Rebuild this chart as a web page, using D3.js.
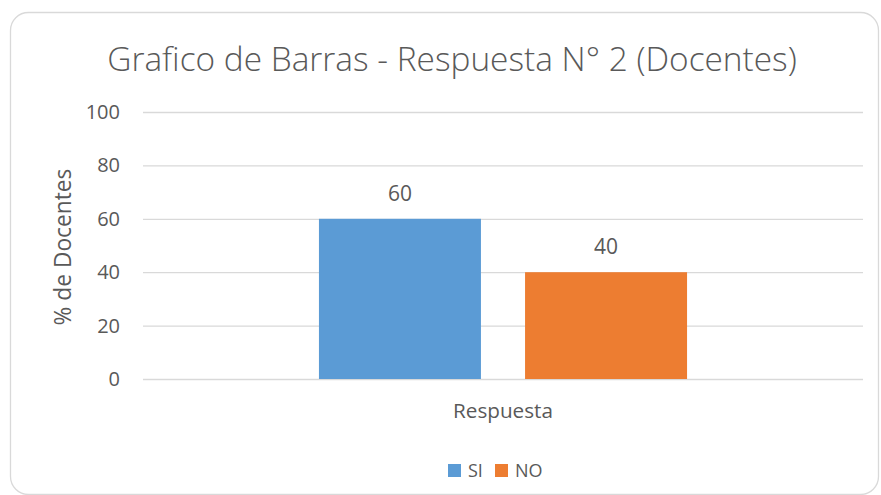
<!DOCTYPE html>
<html>
<head>
<meta charset="utf-8">
<script src="https://cdn.jsdelivr.net/npm/d3@7"></script>
<style>
  body { margin: 0; background: #fff; }
  text { font-family: "Open Sans", Lato, sans-serif; fill: #595959; }
</style>
</head>
<body>
<div id="viz-wrapper"></div>
<script>
var width = 881;
var height = 495;

// data
var categories = ['Respuesta'];
var seriesNames = ['SI', 'NO'];
var seriesValues = [60, 40];
var seriesColors = ['#5B9BD5', '#ED7D31'];
var yTicks = [0, 20, 40, 60, 80, 100];
var chartTitle = 'Grafico de Barras - Respuesta N° 2 (Docentes)';
var yTitle = '% de Docentes';

var plot = { left: 143, right: 863, top: 112, bottom: 379 };

var viz = d3.select('#viz-wrapper').append('svg').attr('width', width).attr('height', height);

// scale a text's font size so it spans roughly the same width as the reference
function fitWidth(sel, size, target) {
  sel.style('font-size', size + 'px');
  var w = sel.node().getComputedTextLength();
  sel.style('font-size', (size * target / w) + 'px');
}

// chart frame
viz.append('rect')
  .attr('x', 10.5).attr('y', 12.5)
  .attr('width', 868).attr('height', 482)
  .attr('rx', 18).attr('ry', 18)
  .attr('fill', '#fff').attr('stroke', '#d9d9d9').attr('stroke-width', 1.3);

var y = d3.scaleLinear().domain([0, 100]).range([plot.bottom, plot.top]);

var x0 = d3.scaleBand().domain(categories).range([plot.left, plot.right])
  .paddingInner(0).paddingOuter(0.478);

var x1 = d3.scaleBand().domain(seriesNames).range([0, x0.bandwidth()])
  .paddingInner(0.214).paddingOuter(0);

// gridlines + tick labels
var yAxis = d3.axisLeft(y).tickValues(yTicks).tickSize(-(plot.right - plot.left)).tickPadding(23);
var gy = viz.append('g').attr('transform', 'translate(' + plot.left + ',0)').call(yAxis);
gy.select('.domain').remove();
gy.selectAll('line').attr('stroke', '#d9d9d9').attr('stroke-width', 1.3);
gy.selectAll('text').style('font-size', '20px').style('fill', '#595959').attr('font-family', null);

// bars
var bars = viz.append('g');
seriesNames.forEach(function(s, i) {
  var g = bars.append('g').attr('transform', 'translate(' + x0(categories[0]) + ',0)');
  g.append('rect')
    .attr('x', x1(s))
    .attr('y', y(seriesValues[i]))
    .attr('width', x1.bandwidth())
    .attr('height', y(0) - y(seriesValues[i]))
    .attr('fill', seriesColors[i]);
  g.append('text')
    .attr('x', x1(s) + x1.bandwidth() / 2)
    .attr('y', y(seriesValues[i]) - 18)
    .attr('text-anchor', 'middle')
    .style('font-size', '21px')
    .text(seriesValues[i]);
});

// x axis category label
var xAxis = d3.axisBottom(x0).tickSize(0).tickPadding(0);
var gx = viz.append('g').attr('transform', 'translate(0,' + plot.bottom + ')').call(xAxis);
gx.select('.domain').remove();
gx.selectAll('text').attr('y', 39).attr('dy', null).style('fill', '#595959').attr('font-family', null)
  .each(function() { fitWidth(d3.select(this), 18, 100); });

// title
var title = viz.append('text')
  .attr('x', 452).attr('y', 71)
  .attr('text-anchor', 'middle')
  .style('font-weight', 300)
  .text(chartTitle);
fitWidth(title, 30, 690);

// y axis title
var yt = viz.append('text')
  .attr('transform', 'translate(71,247) rotate(-90)')
  .attr('text-anchor', 'middle')
  .text(yTitle);
fitWidth(yt, 20, 157);

// legend
var legend = viz.append('g');
var lx = [448, 495];
seriesNames.forEach(function(s, i) {
  legend.append('rect')
    .attr('x', lx[i]).attr('y', 464)
    .attr('width', 13).attr('height', 13)
    .attr('fill', seriesColors[i]);
  legend.append('text')
    .attr('x', lx[i] + 20).attr('y', 477)
    .style('font-size', '18px')
    .text(s);
});
</script>
</body>
</html>
